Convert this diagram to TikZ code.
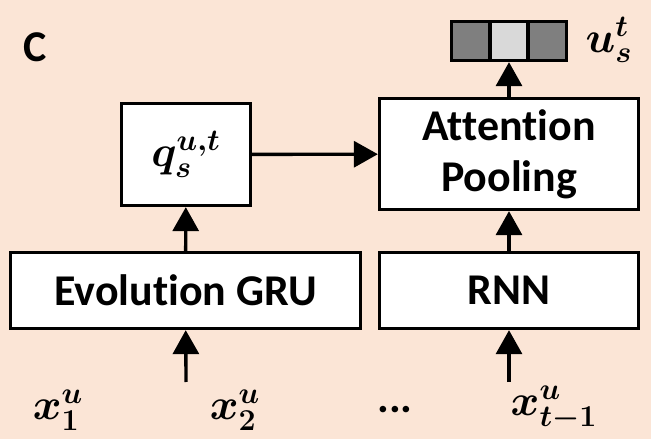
\documentclass[tikz,border=0pt]{standalone}
\usepackage{fontspec}
\setmainfont{Carlito}[Ligatures={NoCommon}]
\usepackage{amsmath,bm}
\usetikzlibrary{arrows.meta}
\definecolor{bgpeach}{HTML}{FBE5D6}
\definecolor{celldark}{HTML}{7F7F7F}
\definecolor{celllight}{HTML}{D9D9D9}

\begin{document}
\begin{tikzpicture}[x=0.02cm,y=0.02cm,line width=1.9pt,
  block node/.style={rectangle,draw,fill=white,inner sep=0pt,align=center,
    font=\fontsize{25}{29}\selectfont\bfseries},
  cell node/.style={rectangle,draw,minimum width=0.767cm,minimum height=0.78cm,inner sep=0pt},
  label node/.style={inner sep=0pt,font=\fontsize{27}{30}\selectfont},
  >={Triangle[width=0.52cm,length=0.48cm]}]

  \fill[bgpeach] (0,0) rectangle (651,439);
  \useasboundingbox (0,0) rectangle (651,439);

  \node[label node,font=\fontsize{25}{29}\selectfont\bfseries] at (35,392) (panel) {C};

  % output vector
  \node[cell node,fill=celldark] at (470.7,398) (v1) {};
  \node[cell node,fill=celllight] at (509,398) (v2) {};
  \node[cell node,fill=celldark] at (547.3,398) (v3) {};
  \node[label node] at (609,399) (ulab) {$\boldsymbol{u_s^t}$};

  % blocks
  \node[block node,minimum width=5.18cm,minimum height=2.22cm] at (509,285) (att) {Attention\\Pooling};
  \node[block node,minimum width=2.58cm,minimum height=2.04cm,font=\fontsize{27}{30}\selectfont] at (186,284.5) (q) {$\boldsymbol{q_s^{u,t}}$};
  \node[block node,minimum width=7.0cm,minimum height=1.52cm] at (185.5,148.5) (gru) {Evolution GRU};
  \node[block node,minimum width=5.18cm,minimum height=1.52cm] at (509,148.5) (rnn) {RNN};

  % inputs
  \coordinate (in1) at (186,57);
  \coordinate (in2) at (509,57);
  \node[label node] at (58,29) (x1) {$\boldsymbol{x_1^u}$};
  \node[label node] at (235,29) (x2) {$\boldsymbol{x_2^u}$};
  \node[label node,font=\fontsize{25}{29}\selectfont\bfseries] at (395,29) (dots) {...};
  \node[label node] at (554,31) (xt) {$\boldsymbol{x_{t-1}^u}$};

  \path[->]
  (in1) edge (gru)
  (in2) edge (rnn)
  (gru) edge (q)
  (rnn) edge (att)
  (q) edge (att)
  (att) edge (v2);
\end{tikzpicture}
\end{document}
